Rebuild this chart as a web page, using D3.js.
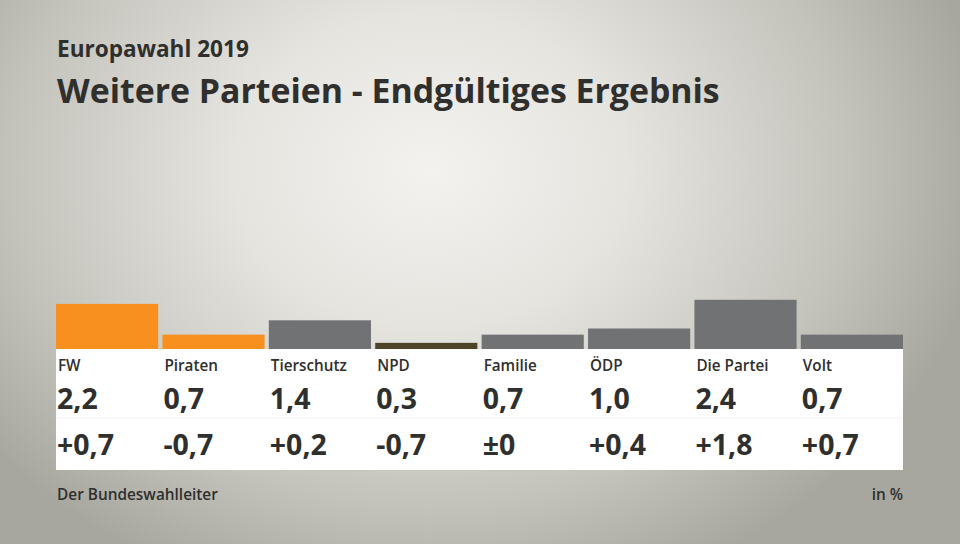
<!DOCTYPE html>
<html><head><meta charset="utf-8">
<script src="https://cdn.jsdelivr.net/npm/d3@7"></script>
<style>body{margin:0;}svg{display:block;}</style>
</head><body>
<script>
const parties = ["FW","Piraten","Tierschutz","NPD","Familie","ÖDP","Die Partei","Volt"];
const results = [2.2,0.7,1.4,0.3,0.7,1.0,2.4,0.7];
const changes = ["+0,7","-0,7","+0,2","-0,7","±0","+0,4","+1,8","+0,7"];
const colors = ["#f7901e","#f7901e","#717274","#4e4327","#717274","#717274","#717274","#717274"];

const W=960,H=544;
const svg=d3.select("body").append("svg").attr("width",W).attr("height",H);
const defs=svg.append("defs");
const g=defs.append("radialGradient").attr("id","bg").attr("gradientUnits","userSpaceOnUse")
  .attr("cx",430).attr("cy",170).attr("r",560).attr("gradientTransform","translate(430,170) scale(1,0.8) translate(-430,-170)");
g.append("stop").attr("offset","0").attr("stop-color","#f3f2ef");
g.append("stop").attr("offset","0.35").attr("stop-color","#e5e4df");
g.append("stop").attr("offset","0.75").attr("stop-color","#c3c2bb");
g.append("stop").attr("offset","1").attr("stop-color","#a8a79f");
svg.append("rect").attr("width",W).attr("height",H).attr("fill","url(#bg)");

const font="'Open Sans', Lato, sans-serif";
const ink="#2f2f2d";

// size a text so that a reference string reaches a target width
function fit(sel, target){
  const w=sel.node().getComputedTextLength();
  const fs=+sel.attr("font-size");
  sel.attr("font-size",fs*target/w);
  return fs*target/w;
}
const t1=svg.append("text").attr("x",57).attr("y",57).text("Europawahl 2019")
  .attr("font-family",font).attr("font-weight",700).attr("font-size",20).attr("fill",ink);
fit(t1,192);
const t2=svg.append("text").attr("x",57).attr("y",103).text("Weitere Parteien - Endgültiges Ergebnis")
  .attr("font-family",font).attr("font-weight",700).attr("font-size",36).attr("fill",ink);
fit(t2,663);

const x=d3.scaleBand().domain(parties).range([56,903]).paddingInner(0.04).paddingOuter(0).align(0);
const base=349;
const y=d3.scaleLinear().domain([0,1]).range([base,base-20.5]);

svg.append("rect").attr("x",56).attr("y",base).attr("width",847).attr("height",121).attr("fill","#ffffff");
svg.append("line").attr("x1",56).attr("x2",903).attr("y1",418).attr("y2",418).attr("stroke","#f2f2f2");

svg.selectAll("rect.bar").data(parties).enter().append("rect").attr("class","bar")
  .attr("x",d=>x(d)).attr("width",x.bandwidth())
  .attr("y",(d,i)=>y(results[i])).attr("height",(d,i)=>base-y(results[i]))
  .attr("fill",(d,i)=>colors[i]);

// measure sizes
const probe=svg.append("text").attr("font-family",font).attr("font-weight",600).attr("font-size",14).text("Tierschutz");
const labSize=fit(probe,76);
probe.attr("font-weight",700).attr("font-size",26).text("+0,7");
const valSize=fit(probe,57);
probe.remove();

const fmt=v=>v.toFixed(1).replace(".",",");
svg.selectAll("text.lab").data(parties).enter().append("text")
  .attr("x",d=>x(d)+2).attr("y",371).text(d=>d)
  .attr("font-family",font).attr("font-weight",600).attr("font-size",labSize).attr("fill",ink);
svg.selectAll("text.val").data(parties).enter().append("text")
  .attr("x",d=>x(d)+1).attr("y",409).text((d,i)=>fmt(results[i]))
  .attr("font-family",font).attr("font-weight",700).attr("font-size",valSize).attr("fill",ink);
svg.selectAll("text.chg").data(parties).enter().append("text")
  .attr("x",d=>x(d)+1).attr("y",455).text((d,i)=>changes[i])
  .attr("font-family",font).attr("font-weight",700).attr("font-size",valSize).attr("fill",ink);

const f1=svg.append("text").attr("x",57).attr("y",500).text("Der Bundeswahlleiter")
  .attr("font-family",font).attr("font-weight",600).attr("font-size",14).attr("fill",ink);
fit(f1,161);
svg.append("text").attr("x",903).attr("y",500).attr("text-anchor","end").text("in %")
  .attr("font-family",font).attr("font-weight",600).attr("font-size",f1.attr("font-size")).attr("fill",ink);
</script>
</body></html>
